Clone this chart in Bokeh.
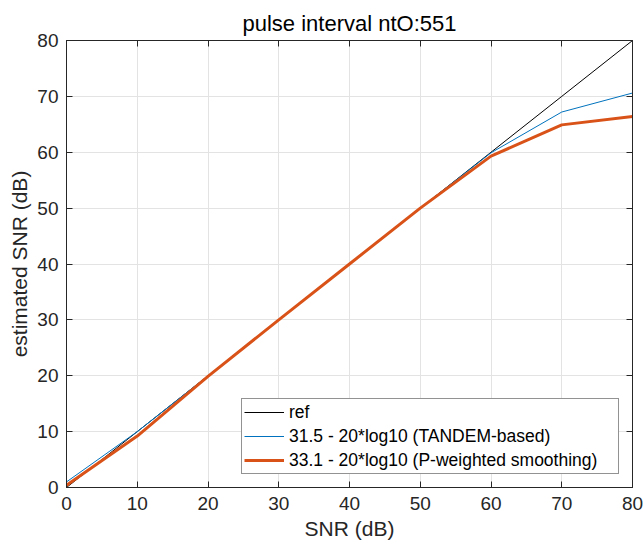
from bokeh.plotting import figure
from bokeh.models import LinearAxis, FixedTicker, Range1d, Legend, LegendItem, CustomJSTickFormatter
from bokeh.embed import file_html
from bokeh.resources import INLINE

# data
snr = [0, 10, 20, 30, 40, 50, 60, 70, 80]
ref = [0, 10, 20, 30, 40, 50, 60, 70, 80]
tandem = [1.0, 10.0, 20.0, 30.0, 40.0, 50.0, 59.9, 67.2, 70.6]
pweighted = [0.4, 9.2, 19.9, 30.0, 40.0, 50.0, 59.3, 64.9, 66.4]
ticks = [0, 10, 20, 30, 40, 50, 60, 70, 80]
labels = ["ref", "31.5 - 20*log10 (TANDEM-based)", "33.1 - 20*log10 (P-weighted smoothing)"]

FONT = "Liberation Sans"
TXT = "#262626"

p = figure(width=643, height=545, output_backend="svg", toolbar_location=None,
           x_range=Range1d(0, 80), y_range=Range1d(0, 80),
           min_border_left=66, min_border_right=11, min_border_top=40, min_border_bottom=58,
           title="pulse interval ntO:551")
p.title.align = "center"
p.title.text_font = FONT
p.title.text_font_size = "22px"
p.title.text_font_style = "normal"
p.title.text_color = "#000000"

p.outline_line_color = TXT
p.outline_line_width = 1
p.outline_line_alpha = 1

for ax in (p.xaxis[0], p.yaxis[0]):
    ax.ticker = FixedTicker(ticks=ticks)
    ax.major_tick_in = 6
    ax.major_tick_out = 0
    ax.minor_tick_line_color = None
    ax.axis_line_color = TXT
    ax.major_tick_line_color = TXT
    ax.major_label_text_font = FONT
    ax.major_label_text_font_size = "19px"
    ax.major_label_text_color = TXT
    ax.axis_label_text_font = FONT
    ax.axis_label_text_font_size = "21px"
    ax.axis_label_text_font_style = "normal"
    ax.axis_label_text_color = TXT

p.xaxis.axis_label = "SNR (dB)"
p.yaxis.axis_label = "estimated SNR (dB)"
p.xaxis.major_label_standoff = 9
p.yaxis.major_label_standoff = 8
p.xaxis.axis_label_standoff = 4
p.yaxis.axis_label_standoff = 3

blank = CustomJSTickFormatter(code="return ''")
for loc in ("above", "right"):
    ax = LinearAxis(ticker=FixedTicker(ticks=ticks), major_tick_in=6, major_tick_out=0,
                    minor_tick_line_color=None, axis_line_color=TXT, major_tick_line_color=TXT,
                    formatter=blank, major_label_standoff=0)
    p.add_layout(ax, loc)

p.xgrid.ticker = FixedTicker(ticks=ticks)
p.ygrid.ticker = FixedTicker(ticks=ticks)
p.xgrid.grid_line_color = "#e3e3e3"
p.ygrid.grid_line_color = "#e3e3e3"

r0 = p.line(snr, ref, line_color="#000000", line_width=1)
r1 = p.line(snr, tandem, line_color="#0072BD", line_width=1)
r2 = p.line(snr, pweighted, line_color="#D95319", line_width=3)

leg = Legend(items=[LegendItem(label=labels[0], renderers=[r0]),
                    LegendItem(label=labels[1], renderers=[r1]),
                    LegendItem(label=labels[2], renderers=[r2])],
             location="bottom_right")
leg.label_text_font = FONT
leg.label_text_font_size = "17.5px"
leg.label_text_color = "#000000"
leg.border_line_color = TXT
leg.border_line_width = 1
leg.background_fill_color = "white"
leg.background_fill_alpha = 1
leg.glyph_width = 40
leg.glyph_height = 22
leg.label_height = 22
leg.label_width = 327
leg.label_standoff = 5
leg.spacing = 2
leg.padding = 2
leg.margin = 13
p.add_layout(leg)

open("out.html", "w").write(file_html(p, INLINE))
